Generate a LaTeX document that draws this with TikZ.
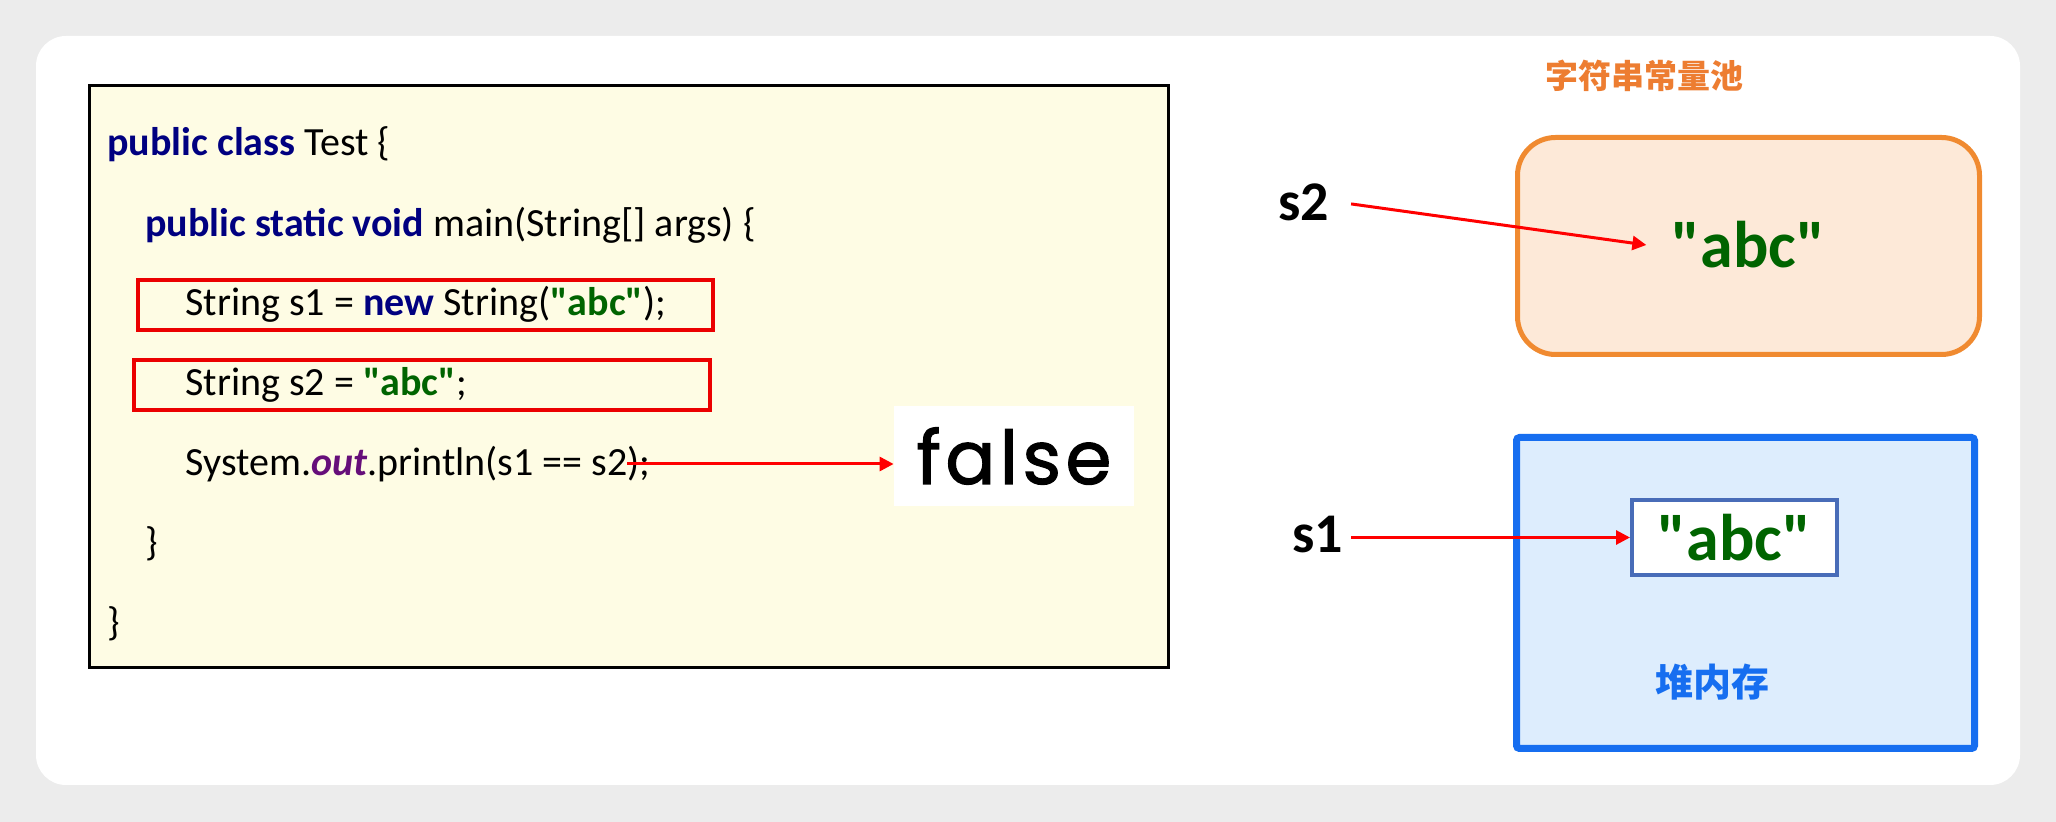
\documentclass[tikz,border=0pt]{standalone}
\usepackage{fontspec}
\setmainfont{Carlito}[Ligatures=TeXOff]
\newfontfamily\cjk{Noto Sans CJK SC}
\newfontfamily\falsefont{Poppins}[LetterSpace=6,FakeBold=1.6]
\usetikzlibrary{arrows.meta}
\definecolor{kwblue}{RGB}{0,0,128}
\definecolor{strgreen}{RGB}{0,100,0}
\definecolor{outpurple}{RGB}{102,14,122}
\definecolor{codebg}{RGB}{254,252,228}
\definecolor{poolfill}{RGB}{253,233,216}
\definecolor{pooldraw}{RGB}{240,138,48}
\definecolor{heapfill}{RGB}{221,237,253}
\definecolor{heapdraw}{RGB}{22,110,240}
\definecolor{objdraw}{RGB}{72,108,184}
\definecolor{titleorange}{RGB}{237,125,49}
\definecolor{hlred}{RGB}{235,0,0}
\newcommand\kw[1]{\textcolor{kwblue}{\bfseries #1}}
\newcommand\lit[1]{\textcolor{strgreen}{\bfseries #1}}

\begin{document}
\begin{tikzpicture}[x=0.5pt,y=-0.5pt,
  code/.style={anchor=base west,inner sep=0pt,font=\fontsize{20pt}{24pt}\selectfont},
  ref/.style={font=\fontsize{28pt}{30pt}\selectfont\bfseries,inner ysep=0pt,inner xsep=4pt},
  strval/.style={text=strgreen,inner ysep=0pt,font=\fontsize{33pt}{35pt}\selectfont\bfseries},
  hlbox/.style={draw=hlred,line width=2pt},
  ptr/.style={draw=red,line width=1.5pt,-{Triangle[length=7pt,width=7pt]}}
  ]
  \fill[gray!15] (0,0) rectangle (2056,822);
  \fill[white,rounded corners=15pt] (36,36) rectangle (2020,785);

  \draw[line width=1.5pt,fill=codebg] (89,86) rectangle (1168,668);
  \draw[hlbox] (138,280) rectangle (713,330);
  \draw[hlbox] (134,360) rectangle (710,410);
  \node[code] (l1) at (107,156) {\kw{public class} Test \{};
  \node[code] (l2) at (145,237) {\kw{public static void} main(String[] args) \{};
  \node[code] (l3) at (185,316) {String s1 = \kw{new} String(\lit{"abc"});};
  \node[code] (l4) at (185,396) {String s2 = \lit{"abc"};};
  \node[code] (l5) at (185,476) {System.\textcolor{outpurple}{\bfseries\itshape out}.println(s1 == s2);};
  \node[code] (l6) at (145,556) {\}};
  \node[code] (l7) at (107,636) {\}};
  \node[fill=white,minimum width=120pt,minimum height=50pt,
    font=\falsefont\fontsize{37pt}{40pt}\selectfont] (res) at (1014,456) {false};
  \coordinate (cmp) at (627,464);
  \draw[ptr] (cmp) -- (cmp -| res.west);

  \node[text=titleorange,font=\cjk\bfseries\fontsize{16.5pt}{18pt}\selectfont] (pooltitle) at (1644,76) {字符串常量池};
  \draw[draw=pooldraw,fill=poolfill,line width=2.5pt,rounded corners=19pt] (1517.5,137.5) rectangle (1979.5,354.5);
  \node[strval,inner xsep=12.5pt] (poolstr) at (1748.5,245) {"abc"};
  \draw[draw=heapdraw,fill=heapfill,line width=3.5pt,rounded corners=1.5pt] (1516.5,437.5) rectangle (1974.5,748.5);
  \node[strval,draw=objdraw,line width=2pt,fill=white,minimum width=102.5pt,minimum height=37.5pt] (heapstr) at (1734.5,537.5) {"abc"};
  \node[text=heapdraw,font=\cjk\bfseries\fontsize{19pt}{20pt}\selectfont] (heaplabel) at (1712,682) {堆内存};

  \node[ref] (s2) at (1303.5,202) {s2};
  \node[ref] (s1) at (1317.5,535) {s1};
  \draw[ptr,shorten <=7pt] (s2.east) -- (poolstr.west);
  \draw[ptr] (s1.east |- heapstr.west) -- (heapstr.west);
\end{tikzpicture}
\end{document}
